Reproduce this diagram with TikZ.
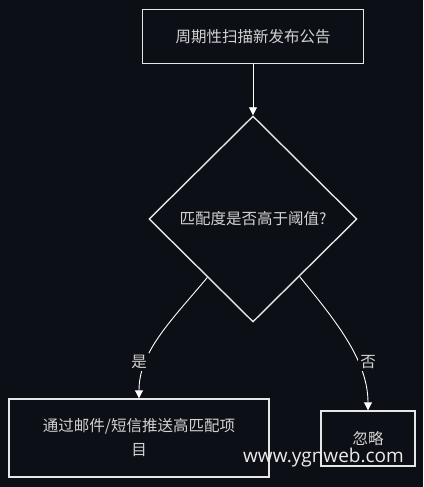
\documentclass[tikz,border=0pt]{standalone}
\usepackage{fontspec}
\setmainfont{Noto Sans CJK SC}
\newfontfamily\wmfont{Open Sans}
\usetikzlibrary{shapes.geometric,arrows.meta}
\definecolor{bg}{RGB}{12,15,21}
\definecolor{txt}{RGB}{210,210,210}
\definecolor{bd}{RGB}{230,230,230}
\begin{document}
\begin{tikzpicture}[x=1pt,y=-1pt,
  box/.style={draw=bd,line width=1.4pt,fill=bg,text=txt,inner sep=0pt,font=\fontsize{15.5}{24}\selectfont,align=center},
  dec/.style={box,shape=diamond},
  edge/.style={draw=white,line width=0.9pt,-{Triangle[length=8pt,width=8pt]}},
  lbl/.style={fill=bg,text=txt,inner sep=2.5pt,font=\fontsize{15.5}{18}\selectfont}]
\fill[bg] (0,0) rectangle (423,487);
\useasboundingbox (0,0) rectangle (423,487);
\node[box,minimum width=221pt,minimum height=54pt] (scan) at (253,36.5) {周期性扫描新发布公告};
\node[dec,minimum width=208pt,minimum height=206pt] (d) at (253,219) {匹配度是否高于阈值?};
\node[box,minimum width=260pt,minimum height=78pt] (push) at (139,438) {通过邮件/短信推送高匹配项\\目};
\node[box,minimum width=94pt,minimum height=55pt] (ign) at (368,438.5) {忽略};
\draw[edge] (scan) -- (d);
\draw[edge] (d.-128) .. controls (170,322) and (139,352) .. (push.north);
\draw[edge] (d.-51) .. controls (335,320) and (368,360) .. (ign.north);
\node[lbl] (yes) at (139,362) {是};
\node[lbl] (no) at (368,362) {否};
\node[font=\wmfont\fontsize{19}{19}\selectfont,text=white!92!black,anchor=base] (wm) at (323.5,462) {www.ygnweb.com};
\end{tikzpicture}
\end{document}
